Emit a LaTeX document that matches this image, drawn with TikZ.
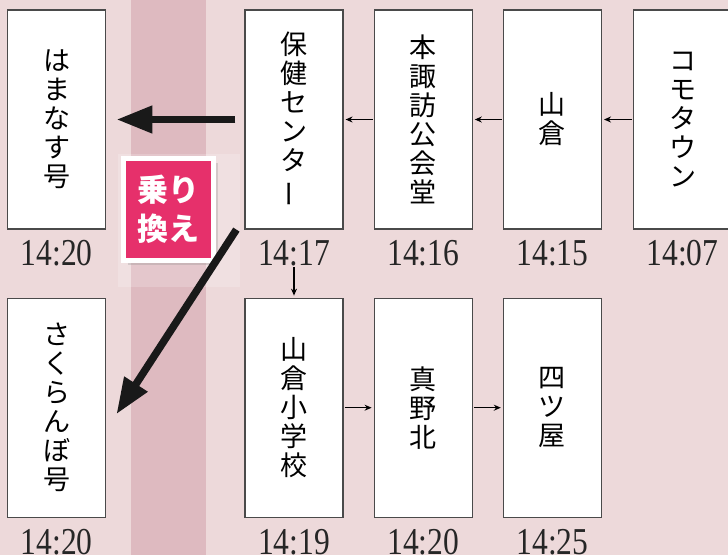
\documentclass[tikz,border=0pt]{standalone}
\usepackage{fontspec}
\newfontfamily\jpfont{Noto Sans CJK JP}
\newfontfamily\timefont[FakeStretch=0.83]{Liberation Serif}
\usetikzlibrary{positioning,arrows.meta,calc,shadows}
\definecolor{bgpink}{HTML}{EDD9DA}
\definecolor{bandpink}{HTML}{DEBAC0}
\definecolor{badgered}{HTML}{E6306B}
\definecolor{boxline}{HTML}{4A4A4A}
\begin{document}
\begin{tikzpicture}[x=1pt, y=1pt,
        stop/.style={draw=boxline, line width=1.2pt, fill=white, minimum width=98pt, minimum height=219pt, inner sep=0pt, align=center, font=\jpfont\fontsize{27}{29}\selectfont},
        timelbl/.style={inner sep=0pt, text height=26pt, text depth=0pt, text=black!85, font=\timefont\fontsize{38}{38}\selectfont},
        link/.style={-{Stealth[length=7pt, width=6pt]}, line width=1.1pt, shorten <=1pt, shorten >=2pt},
        bigarrow/.style={-{Triangle[length=36pt, width=26pt]}, line width=7.5pt, black!90},
        badge/.style={draw=white, line width=5pt, fill=badgered, minimum width=90pt, minimum height=102pt, inner sep=0pt, align=center, text=white, drop shadow={shadow xshift=4pt, shadow yshift=-4pt, opacity=0.25}, font=\jpfont\bfseries\fontsize{31}{39}\selectfont}]
        % Background
        \fill[bgpink] (0,0) rectangle (728,-555);
        \useasboundingbox (0,0) rectangle (728,-555);
        \fill[bandpink] (131,0) rectangle (206,-555);
        \fill[white, opacity=0.2] (118,-154) rectangle (240,-287);

        % Nodes
        \node[stop] (hoken) at (294,-119.5) {保\\健\\セ\\ン\\タ\\\rotatebox[origin=c]{90}{ー}};
        \node[stop, left=138pt of hoken] (hamanasu) {は\\ま\\な\\す\\号};
        \node[stop, right=30pt of hoken] (honsuwa) {本\\諏\\訪\\公\\会\\堂};
        \node[stop, right=30pt of honsuwa] (yamakura) {山\\倉};
        \node[stop, right=31pt of yamakura] (komo) {コ\\モ\\タ\\ウ\\ン};
        \node[stop, below=68pt of hoken] (yamasho) {山\\倉\\小\\学\\校};
        \node[stop, below=68pt of hamanasu] (sakuranbo) {さ\\く\\ら\\ん\\ぼ\\号};
        \node[stop, right=30pt of yamasho] (mano) {真\\野\\北};
        \node[stop, right=30pt of mano] (yotsuya) {四\\ツ\\屋};

        \node[timelbl, below=10pt of hamanasu] (thamanasu) {14:20};
        \node[timelbl, below=10pt of hoken] (thoken) {14:17};
        \node[timelbl, below=10pt of honsuwa] (thonsuwa) {14:16};
        \node[timelbl, below=10pt of yamakura] (tyamakura) {14:15};
        \node[timelbl, below=10pt of komo] (tkomo) {14:07};
        \node[timelbl, below=10pt of sakuranbo] (tsakuranbo) {14:20};
        \node[timelbl, below=10pt of yamasho] (tyamasho) {14:19};
        \node[timelbl, below=10pt of mano] (tmano) {14:20};
        \node[timelbl, below=10pt of yotsuya] (tyotsuya) {14:25};

        \node[badge] (transfer) at (168.5,-209.5) {乗り\\換え};

        % Arrows
        \draw[link] (komo) -- (yamakura);
        \draw[link] (yamakura) -- (honsuwa);
        \draw[link] (honsuwa) -- (hoken);
        \draw[link] (thoken) -- (yamasho);
        \draw[link] (yamasho) -- (mano);
        \draw[link] (mano) -- (yotsuya);
        \draw[bigarrow] ($(hoken.west)+(-9,0)$) -- ($(hamanasu.east)+(10,0)$);
        \draw[bigarrow] ($(hoken.south west)+(-8,0)$) -- ($(sakuranbo.east)+(10,-6.5)$);
\end{tikzpicture}
\end{document}
